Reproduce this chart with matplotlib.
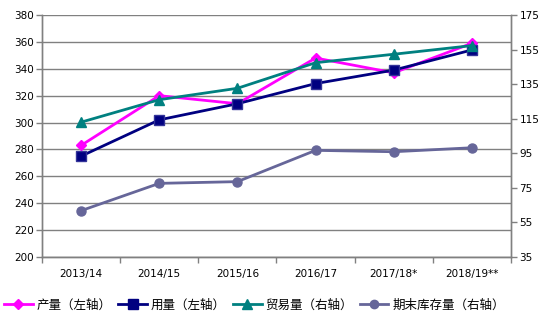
import matplotlib.pyplot as plt
from matplotlib.lines import Line2D

plt.rcParams['font.family'] = ['DejaVu Sans', 'Noto Sans CJK SC']

# Marketing years and series values
seasons = ["2013/14", "2014/15", "2015/16", "2016/17", "2017/18*", "2018/19**"]
production = [283, 320, 314, 348, 337, 359]      # left axis
consumption = [275, 302, 314, 329, 339, 354]     # left axis
trade = [113, 126, 132.6, 147.4, 152.3, 157.3]   # right axis
ending_stock = [61.8, 77.6, 78.6, 96.7, 95.9, 98.2]  # right axis

left_ticks = list(range(200, 381, 20))
right_ticks = list(range(35, 176, 20))

grey = "#808080"

fig = plt.figure(figsize=(5.54, 3.31), dpi=100)
ax = fig.add_axes([42 / 554, 1 - 257 / 331, 469 / 554, 242 / 331])
ax2 = ax.twinx()

x = list(range(len(seasons)))

ax.plot(x, production, color="#FF00FF", lw=2, marker="D", ms=5.5,
        mec="#FF00FF", zorder=3)
ax.plot(x, consumption, color="#000080", lw=2, marker="s", ms=7.5,
        mec="#333399", zorder=3)
ax2.plot(x, trade, color="#008080", lw=2, marker="^", ms=7.5,
         mec="#008080", zorder=3)
ax2.plot(x, ending_stock, color="#666699", lw=2, marker="o", ms=6.5,
         mec="#666699", zorder=3)

ax.set_xlim(-0.5, len(seasons) - 0.5)
ax.set_ylim(200, 380)
ax2.set_ylim(35, 175)
ax.set_yticks(left_ticks)
ax2.set_yticks(right_ticks)

# category labels sit between the boundary ticks
ax.set_xticks([i - 0.5 for i in range(len(seasons) + 1)])
ax.set_xticklabels([])
ax.set_xticks(x, minor=True)
ax.set_xticklabels(seasons, minor=True)
ax.tick_params(axis="x", which="minor", length=0, pad=9, labelsize=7.5)
ax.tick_params(axis="x", which="major", length=4, color=grey, width=1)
ax.tick_params(axis="y", length=4, color=grey, width=1, labelsize=7.5, pad=2)
ax2.tick_params(axis="y", length=4, color=grey, width=1, labelsize=7.5, pad=2)

ax.yaxis.grid(True, color=grey, lw=1)
ax.set_axisbelow(True)

for a in (ax, ax2):
    a.spines["top"].set_visible(False)
    for side in ("left", "right", "bottom"):
        a.spines[side].set_color(grey)
        a.spines[side].set_linewidth(1)

handles = [
    Line2D([], [], color="#FF00FF", lw=2, marker="D", ms=5.5),
    Line2D([], [], color="#000080", lw=2, marker="s", ms=7),
    Line2D([], [], color="#008080", lw=2, marker="^", ms=7),
    Line2D([], [], color="#666699", lw=2, marker="o", ms=6),
]
labels = ["产量（左轴）", "用量（左轴）", "贸易量（右轴）", "期末库存量（右轴）"]
fig.legend(handles, labels, loc="center left",
           bbox_to_anchor=(4 / 554, 1 - 305 / 331),
           ncol=4, frameon=False, handlelength=2.3,
           handletextpad=0.3, columnspacing=0.55, borderaxespad=0,
           borderpad=0,
           prop={"family": ["Noto Sans CJK SC", "DejaVu Sans"], "size": 9})

fig.savefig("out.png", dpi=100)
